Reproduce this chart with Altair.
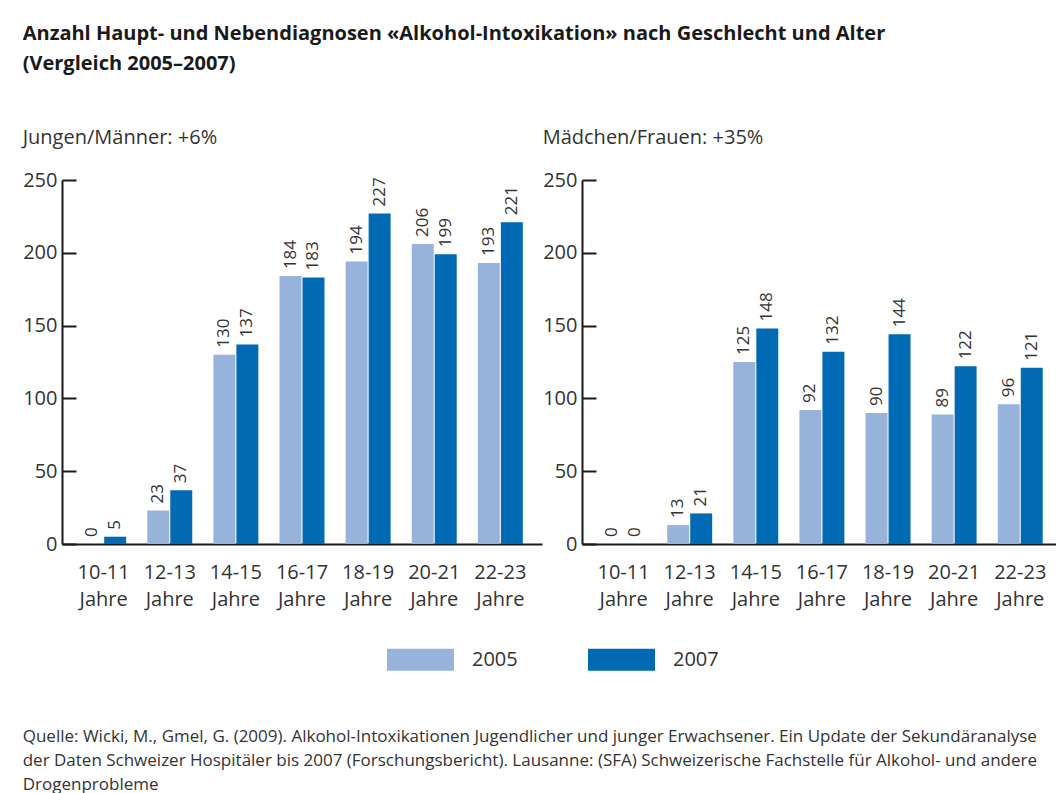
import altair as alt
import pandas as pd

ages = ["10-11 Jahre", "12-13 Jahre", "14-15 Jahre", "16-17 Jahre",
        "18-19 Jahre", "20-21 Jahre", "22-23 Jahre"]
years = ["2005", "2007"]
men_2005 = [0, 23, 130, 184, 194, 206, 193]
men_2007 = [5, 37, 137, 183, 227, 199, 221]
women_2005 = [0, 13, 125, 92, 90, 89, 96]
women_2007 = [0, 21, 148, 132, 144, 122, 121]
y_ticks = [0, 50, 100, 150, 200, 250]

title_lines = ["Anzahl Haupt- und Nebendiagnosen «Alkohol-Intoxikation» nach Geschlecht und Alter",
               "(Vergleich 2005–2007)"]
men_title = "Jungen/Männer: +6%"
women_title = "Mädchen/Frauen: +35%"
source_lines = [
    "Quelle: Wicki, M., Gmel, G. (2009). Alkohol-Intoxikationen Jugendlicher und junger Erwachsener. Ein Update der Sekundäranalyse",
    "der Daten Schweizer Hospitäler bis 2007 (Forschungsbericht). Lausanne: (SFA) Schweizerische Fachstelle für Alkohol- und andere",
    "Drogenprobleme",
]

FONT = "Open Sans"
TXT = "#333333"
colors = ["#97b3dc", "#006ab4"]


def make_df(v05, v07):
    rows = []
    for a, x05, x07 in zip(ages, v05, v07):
        rows.append({"age": a, "year": "2005", "value": x05})
        rows.append({"age": a, "year": "2007", "value": x07})
    return pd.DataFrame(rows)


def panel(df, title, width, pad_outer, align):
    yscale = alt.Scale(domain=[0, 250], nice=False, zero=True)
    base = alt.Chart(df).encode(
        x=alt.X("age:N", sort=ages,
                scale=alt.Scale(paddingInner=0.32, paddingOuter=pad_outer, align=align),
                axis=alt.Axis(title=None, labelAngle=0, ticks=False,
                              domainColor="#1a1a1a", domainWidth=2,
                              labelExpr="split(datum.label, ' ')",
                              labelFontSize=20, labelColor=TXT, labelFont=FONT,
                              labelLineHeight=27, labelPadding=18)),
        xOffset=alt.XOffset("year:N", sort=years,
                            scale=alt.Scale(paddingInner=0.045)),
    )
    bars = base.mark_bar().encode(
        y=alt.Y("value:Q", scale=yscale,
                axis=alt.Axis(title=None, values=y_ticks, grid=False,
                              domainColor="#1a1a1a", domainWidth=2,
                              tickColor="#1a1a1a", tickWidth=2,
                              tickSize=alt.ExprRef("-14"),
                              labelPadding=19,
                              labelFontSize=20, labelColor=TXT, labelFont=FONT)),
        color=alt.Color("year:N", sort=years,
                        scale=alt.Scale(domain=years, range=colors),
                        legend=alt.Legend(
                            title=None, orient="none", direction="horizontal",
                            legendX=325, legendY=446,
                            symbolType="M-1,-0.33H1V0.33H-1Z",
                            symbolSize=4489, symbolStrokeWidth=0,
                            symbolOpacity=1,
                            labelFontSize=20, labelColor=TXT, labelFont=FONT,
                            labelOffset=18, columnPadding=70)),
    )
    labels = base.mark_text(angle=270, align="left", baseline="middle",
                            dx=7, fontSize=17, color=TXT, font=FONT).encode(
        y=alt.Y("value:Q", scale=yscale),
        text="value:Q",
    )
    return alt.layer(bars, labels).properties(
        width=width, height=364,
        title=alt.TitleParams(title, anchor="start", fontSize=20,
                              fontWeight="normal", color=TXT, font=FONT,
                              offset=22),
    )


left = panel(make_df(men_2005, men_2007), men_title, 480, 0.29, 0.5)
right = panel(make_df(women_2005, women_2007), women_title, 474, 0.245, 0.59)

panels = alt.hconcat(left, right, spacing=0).properties(
    title=alt.TitleParams(source_lines, orient="bottom", anchor="start",
                          fontSize=17, fontWeight="normal", color=TXT,
                          font=FONT, lineHeight=24, offset=120),
)

chart = alt.vconcat(panels).properties(
    title=alt.TitleParams(title_lines, anchor="start", fontSize=20,
                          fontWeight="bold", color="#1a1a1a", font=FONT,
                          lineHeight=30, offset=54),
    padding={"left": 14, "top": 16, "right": 0, "bottom": 4},
).configure_view(strokeWidth=0)

chart.save("out.html", embed_options={"renderer": "svg", "actions": False})
